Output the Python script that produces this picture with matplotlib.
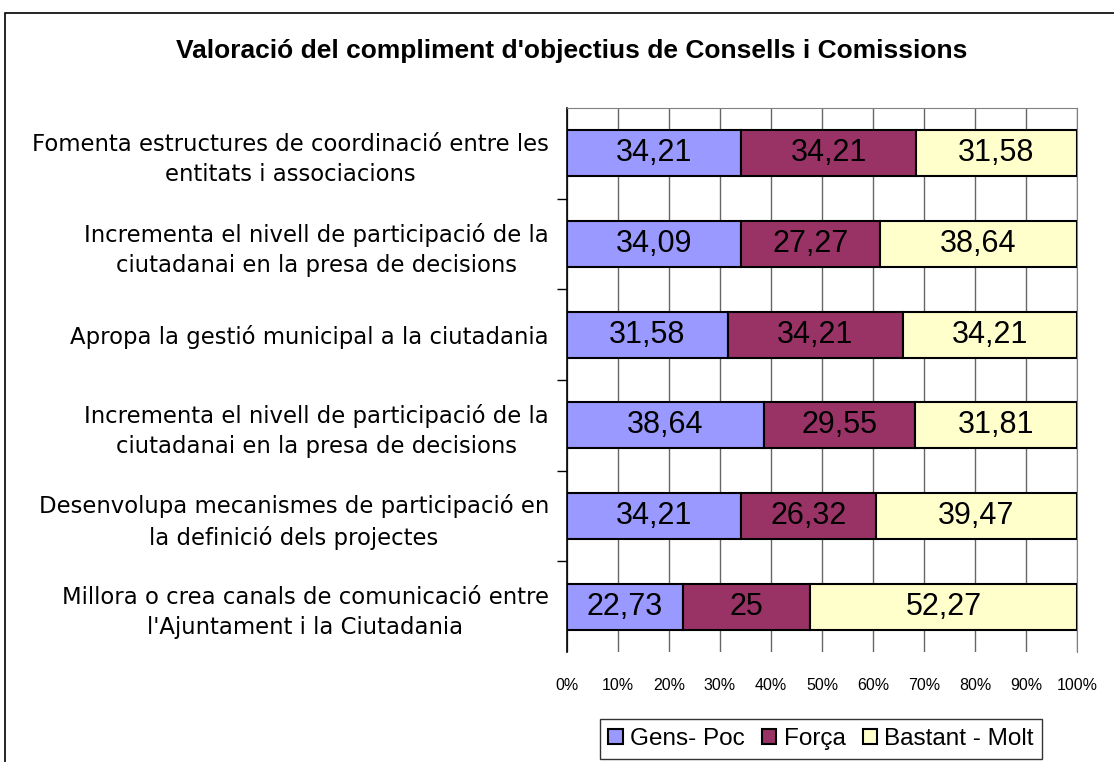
import numpy as np
import matplotlib
matplotlib.use('Agg')
import matplotlib.pyplot as plt
from matplotlib.patches import Rectangle
from matplotlib.ticker import MultipleLocator, FixedLocator

plt.rcParams['font.family'] = ['Liberation Sans', 'DejaVu Sans']

categories = [
    "Fomenta estructures de coordinació entre les\nentitats i associacions",
    "Incrementa el nivell de participació de la\nciutadanai en la presa de decisions",
    "Apropa la gestió municipal a la ciutadania",
    "Incrementa el nivell de participació de la\nciutadanai en la presa de decisions",
    "Desenvolupa mecanismes de participació en\nla definició dels projectes",
    "Millora o crea canals de comunicació entre\nl'Ajuntament i la Ciutadania",
]
gens_poc = [34.21, 34.09, 31.58, 38.64, 34.21, 22.73]
forca = [34.21, 27.27, 34.21, 29.55, 26.32, 25]
bastant_molt = [31.58, 38.64, 34.21, 31.81, 39.47, 52.27]

series = [("Gens- Poc", gens_poc, '#9999FF'),
          ("Força", forca, '#993366'),
          ("Bastant - Molt", bastant_molt, '#FFFFCC')]

fig = plt.figure(figsize=(11.14, 7.62), dpi=100)
ax = fig.add_axes([567/1114, 1-652/762, (1077-567)/1114, (652-108)/762])

# outer chart frame
fig.patches.append(Rectangle((5/1114, -0.05), 1.1, 1-13/762+0.05, transform=fig.transFigure,
                             fill=False, edgecolor='black', linewidth=1.2))

y = np.arange(len(categories))
left = np.zeros(len(categories))
for name, vals, col in series:
    vals = np.array(vals, dtype=float)
    bars = ax.barh(y, vals, left=left, height=0.51, color=col, edgecolor='black',
                   linewidth=1.5, label=name, zorder=3)
    for b, v in zip(bars, vals):
        ax.text(b.get_x() + b.get_width()/2, b.get_y() + b.get_height()/2,
                f"{v:g}".replace('.', ','), ha='center', va='center',
                fontsize=22, color='black', zorder=4)
    left += vals

ax.set_xlim(0, 100)
ax.set_ylim(len(categories)-0.5, -0.5)
ax.xaxis.set_major_locator(MultipleLocator(10))
ax.set_xticklabels([f"{int(t)}%" for t in ax.get_xticks()])
ax.tick_params(axis='x', length=0, pad=19, labelsize=11.5)
ax.grid(axis='x', color='#666666', linewidth=1, zorder=0)

ax.set_yticks(y)
ax.set_yticklabels(categories, fontsize=16.4, family='DejaVu Sans',
                   multialignment='center', linespacing=1.38)
ax.yaxis.set_minor_locator(FixedLocator(np.arange(0.5, len(categories) - 1, 1)))
ax.tick_params(axis='y', which='major', length=0, pad=13)
ax.tick_params(axis='y', which='minor', length=7, width=1, color='black')

for s in ['top', 'right', 'bottom']:
    ax.spines[s].set_color('#808080')
ax.spines['bottom'].set_visible(False)
ax.spines['left'].set_color('black')
ax.spines['left'].set_linewidth(1.2)

fig.text(572/1114, 1-51/762, "Valoració del compliment d'objectius de Consells i Comissions",
         ha='center', va='center', fontsize=19, fontweight='bold')

leg = fig.legend(loc='center', bbox_to_anchor=(821/1114, 1-739/762), ncol=3,
                 fontsize=17.5, frameon=True, fancybox=False, edgecolor='black',
                 handlelength=0.6, handleheight=0.6, handletextpad=0.3,
                 columnspacing=0.7, borderpad=0.35)
leg.get_frame().set_linewidth(1)

fig.savefig('out.png', dpi=100, facecolor='white')
